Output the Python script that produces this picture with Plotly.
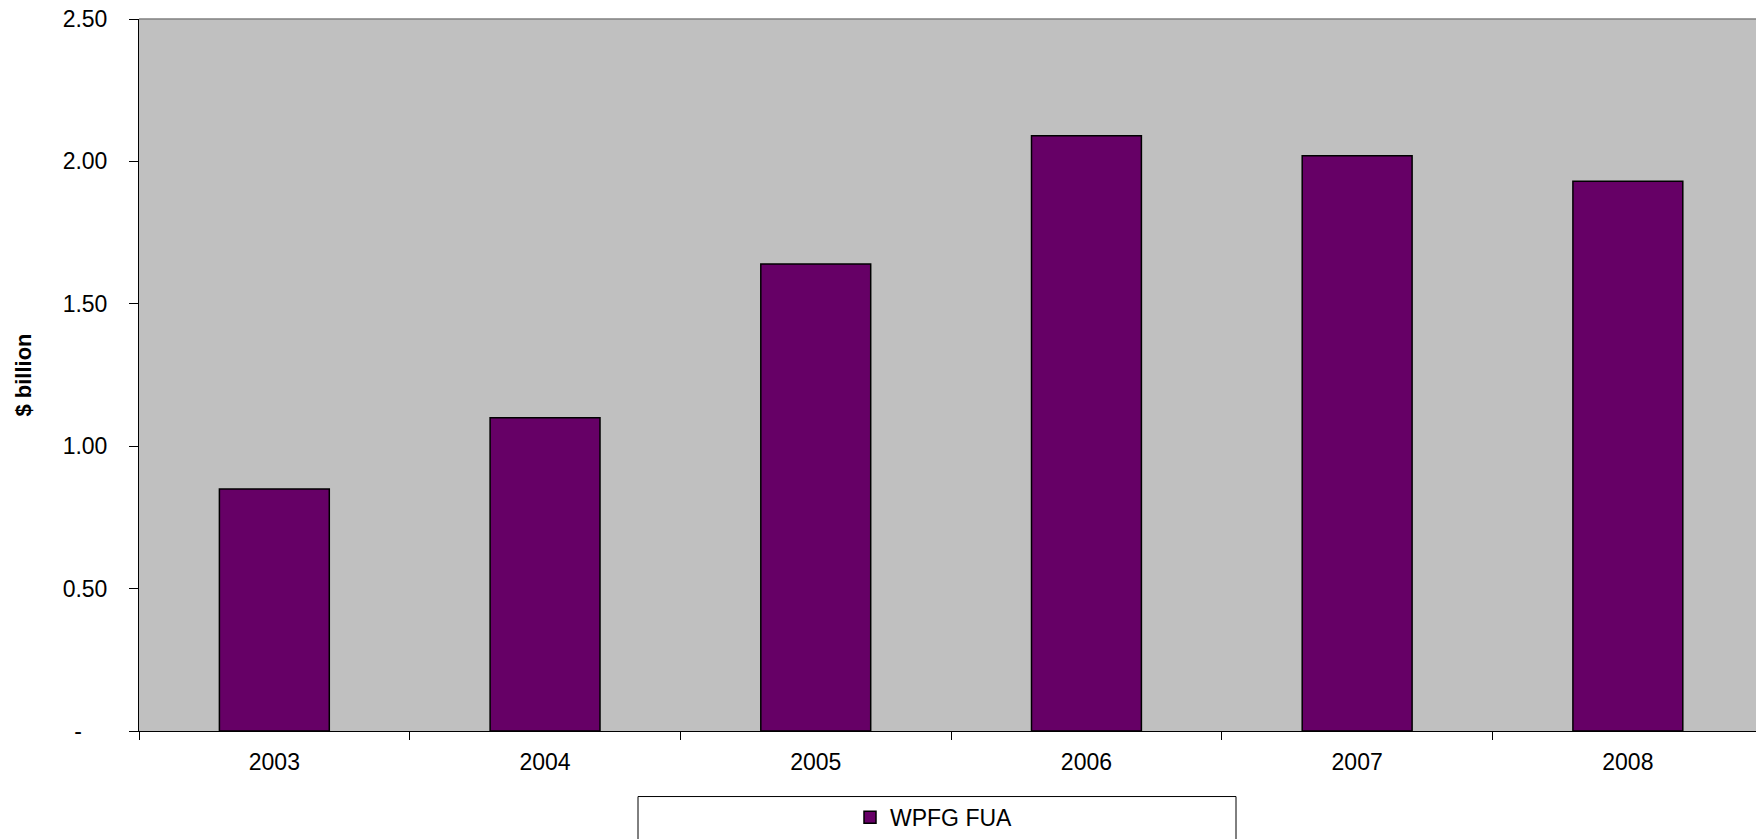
import plotly.graph_objects as go

# Funds under administration by year
years = ["2003", "2004", "2005", "2006", "2007", "2008"]
fua_billion = [0.85, 1.10, 1.64, 2.09, 2.02, 1.93]
series_name = "WPFG FUA"

y_tickvals = [0, 0.5, 1.0, 1.5, 2.0, 2.5]
y_ticktext = ["-\u00a0\u00a0\u00a0\u00a0", "0.50", "1.00", "1.50", "2.00", "2.50"]

FONT = "Liberation Sans, Arial, sans-serif"
FS = 23
W, H = 1756, 839
ML, MR, MT, MB = 139, 0, 19, 103

fig = go.Figure()
fig.add_trace(go.Bar(
    x=years,
    y=fua_billion,
    name=series_name,
    marker=dict(color="#660066", line=dict(color="#000000", width=1.5)),
    showlegend=True,
))

pw = W - ML - MR
ph = H - MT - MB


def px_x(x):
    return (x - ML) / pw


def px_y(y):
    return (H - MB - y) / ph


fig.update_layout(
    width=W,
    height=H,
    margin=dict(l=ML, r=MR, t=MT, b=MB, pad=0),
    paper_bgcolor="white",
    plot_bgcolor="#C0C0C0",
    bargap=0.594,
    font=dict(family=FONT, size=FS, color="black"),
    showlegend=True,
    legend=dict(
        orientation="h",
        x=px_x(934), xanchor="center",
        y=px_y(823), yanchor="middle",
        bgcolor="rgba(0,0,0,0)",
        font=dict(family=FONT, size=FS, color="black"),
        itemwidth=30,
    ),
    xaxis=dict(
        type="category",
        range=[-0.5, -0.5 + pw / 270.7],
        tickson="boundaries",
        ticks="outside",
        ticklen=8,
        tickcolor="black",
        tickwidth=1,
        showline=True,
        linecolor="black",
        linewidth=1,
        showgrid=False,
        zeroline=False,
        tickfont=dict(family=FONT, size=FS),
        ticklabelstandoff=10,
    ),
    yaxis=dict(
        range=[0, 2.5],
        tickvals=y_tickvals,
        ticktext=y_ticktext,
        ticks="outside",
        ticklen=9,
        tickcolor="black",
        tickwidth=1,
        showline=True,
        linecolor="black",
        linewidth=1,
        showgrid=False,
        zeroline=False,
        tickfont=dict(family=FONT, size=FS),
        ticklabelstandoff=17,
        title=dict(text="<b>$ billion</b>", font=dict(family=FONT, size=22), standoff=24),
    ),
    shapes=[
        # gray frame along the top of the plot area
        dict(type="line", xref="paper", yref="paper", x0=0, x1=1, y0=1, y1=1,
             line=dict(color="#808080", width=1.5)),
        # legend frame
        dict(type="rect", xref="paper", yref="paper",
             x0=px_x(638), x1=px_x(1236), y0=px_y(802), y1=px_y(850),
             line=dict(color="#000000", width=1), fillcolor="rgba(0,0,0,0)", layer="above"),
    ],
)

fig.write_html("out.html")
